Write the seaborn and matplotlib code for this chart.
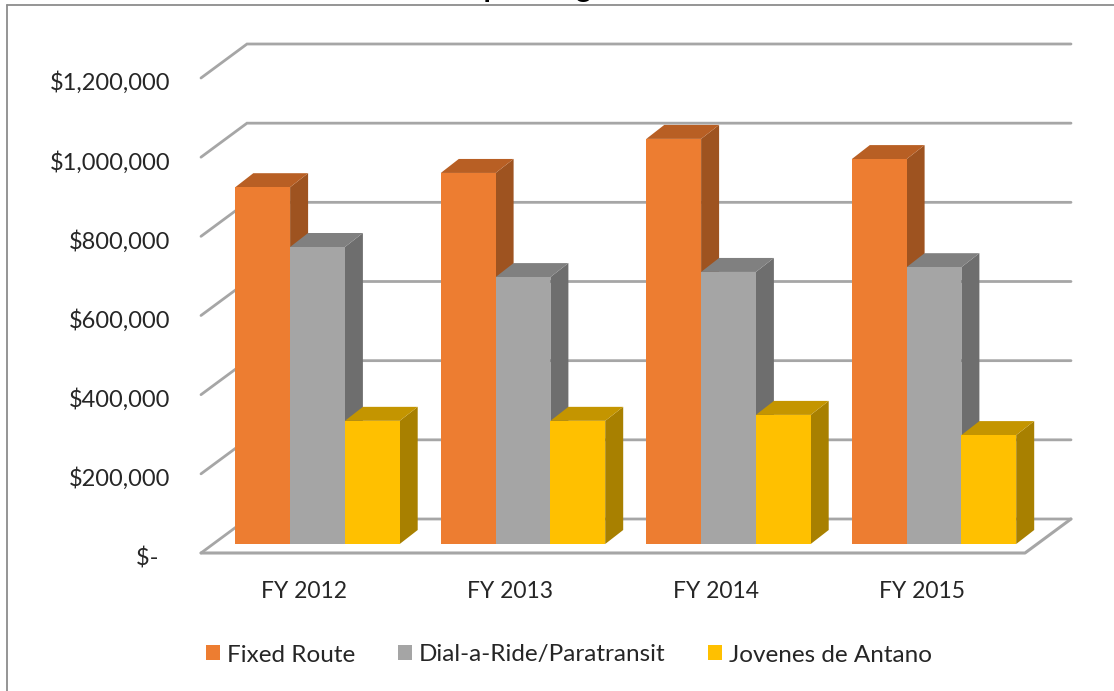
import numpy as np
import pandas as pd
import matplotlib
matplotlib.use("Agg")
import matplotlib.pyplot as plt
from matplotlib.patches import Polygon
from matplotlib.transforms import ScaledTranslation
import seaborn as sns

years = ["FY 2012", "FY 2013", "FY 2014", "FY 2015"]
fixed_route = [901000, 937000, 1023000, 972000]
dial_a_ride = [750000, 674000, 687000, 699000]
jovenes = [311000, 311000, 326000, 275000]
series_names = ["Fixed Route", "Dial-a-Ride/Paratransit", "Jovenes de Antano"]
y_ticks = [0, 200000, 400000, 600000, 800000, 1000000, 1200000]
y_labels = ["$-  ", "$200,000", "$400,000", "$600,000", "$800,000", "$1,000,000", "$1,200,000"]

front_colors = ["#ED7D31", "#A5A5A5", "#FFC000"]
side_colors = ["#9E5320", "#6E6E6E", "#A88000"]
top_colors = ["#B85F24", "#808080", "#C49500"]
grid_color = "#A6A6A6"

W, H = 1114, 691

def px_axes(fig, left, right, top, bottom):
    return fig.add_axes([left / W, 1 - bottom / H, (right - left) / W, (bottom - top) / H])

sns.set_style("white")
plt.rcParams["font.family"] = ["Lato", "DejaVu Sans"]
fig = plt.figure(figsize=(W / 100, H / 100), dpi=100)

# front plane of the fake 3d box: holds the axis labels and the walls
wall = px_axes(fig, 201, 1025, 78, 553)
wall.set_xlim(-0.5, 3.5)
wall.set_ylim(0, 1200000)
wall.set_xticks(range(len(years)), years)
wall.set_yticks(y_ticks, y_labels)
wall.tick_params(axis="x", length=0, pad=20, labelsize=16.5, labelcolor="#262626")
wall.tick_params(axis="y", length=0, pad=22, labelsize=17, labelcolor="#262626")
for lab in wall.get_yticklabels():
    lab.set_transform(lab.get_transform() + ScaledTranslation(0, -3 / 100, fig.dpi_scale_trans))
sns.despine(ax=wall, left=True, bottom=True, top=True, right=True)

back_dx = 46 / 206
back_dy = 34 / 475 * 1200000
for v in y_ticks:
    wall.plot([-0.5, -0.5 + back_dx, 3.5 + back_dx], [v, v + back_dy, v + back_dy],
              color=grid_color, lw=2, clip_on=False, solid_joinstyle="miter")
wall.plot([-0.5, 3.5, 3.5 + back_dx], [0, 0, back_dy], color=grid_color, lw=2.2, clip_on=False)

# bars sit half way into the box
ax = px_axes(fig, 214.75, 1036.75, 44, 544)
ax.patch.set_alpha(0)
df = pd.DataFrame({
    "year": years * 3,
    "series": np.repeat(series_names, len(years)),
    "value": fixed_route + dial_a_ride + jovenes,
})
sns.barplot(data=df, x="year", y="value", hue="series", hue_order=series_names,
            palette=front_colors, saturation=1, width=0.8, gap=0, linewidth=0, ax=ax)
ax.set_xlim(-0.5, 3.5)
ax.set_ylim(0, 500 / 79.2 * 200000)
ax.set_xticks([])
ax.set_yticks([])
ax.set_xlabel("")
ax.set_ylabel("")
sns.despine(ax=ax, left=True, bottom=True)

# depth faces for each bar, left to right so the next bar covers the last one
dx = 18 / 205.5
dy = 14 / 79.2 * 200000
for k, container in enumerate(ax.containers):
    for i, bar in enumerate(container):
        x0, w, h = bar.get_x(), bar.get_width(), bar.get_height()
        z = 3 + i * 3 + k * 0.5
        bar.set_zorder(z + 0.2)
        ax.add_patch(Polygon([(x0 + w, 0), (x0 + w + dx, dy), (x0 + w + dx, h + dy), (x0 + w, h)],
                             facecolor=side_colors[k], edgecolor="none", zorder=z, clip_on=False))
        ax.add_patch(Polygon([(x0, h), (x0 + dx, h + dy), (x0 + w + dx, h + dy), (x0 + w, h)],
                             facecolor=top_colors[k], edgecolor="none", zorder=z + 0.1, clip_on=False))

handles, labels = ax.get_legend_handles_labels()
ax.legend(handles, labels, ncols=3, frameon=False, fontsize=17.5, labelcolor="#262626",
          loc="center", bbox_to_anchor=(569 / W, 1 - 655 / H), bbox_transform=fig.transFigure,
          handlelength=0.57, handleheight=0.57, handletextpad=0.29, columnspacing=1.77)

# chart border, cropped at the right and bottom, with the title cut off above it
fig.add_artist(plt.Line2D([7 / W, 7 / W], [0, 1 - 5 / H], color="#8C8C8C", lw=1.3))
fig.add_artist(plt.Line2D([7 / W, 1], [1 - 5 / H, 1 - 5 / H], color="#8C8C8C", lw=1.3))
fig.text(527 / W, 1 + 3 / H, "Operating", ha="center", va="baseline", fontsize=21, fontweight="bold", color="black")

fig.savefig("out.png", dpi=100)
